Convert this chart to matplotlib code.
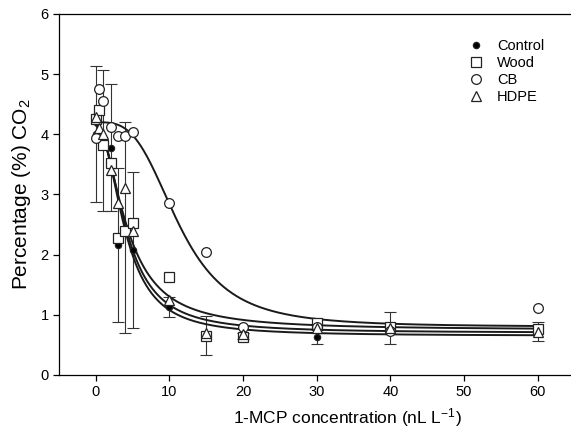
import numpy as np
import matplotlib
matplotlib.use('Agg')
import matplotlib.pyplot as plt

plt.rcParams['font.family'] = ['Liberation Sans', 'DejaVu Sans']
plt.rcParams['mathtext.default'] = 'regular'

# 1-MCP concentrations (nL L-1)
conc = [0, 0.5, 1, 2, 3, 4, 5, 10, 15, 20, 30, 40, 60]

# CO2 percentage
control = [4.00, 3.95, 3.90, 3.78, 2.16, 2.45, 2.08, 1.13, 0.66, 0.65, 0.63, 0.78, 0.72]
control_err = [1.13, 0, 1.17, 1.05, 1.28, 1.75, 1.30, 0.17, 0.32, 0.05, 0.12, 0.27, 0.16]
wood = [4.25, 4.40, 3.82, 3.52, 2.27, 2.40, 2.52, 1.62, 0.64, 0.63, 0.86, 0.80, 0.77]
cb = [3.94, 4.76, 4.55, 4.12, 3.97, 3.97, 4.04, 2.85, 2.05, 0.80, 0.80, 0.73, 1.12]
hdpe = [4.29, 4.10, 4.00, 3.40, 2.85, 3.11, 2.40, 1.25, 0.70, 0.68, 0.78, 0.78, 0.72]

# sigmoid fit parameters (y0, a, x0, b)
fit_control = [0.65, 3.50, 4.00, 2.15]
fit_wood = [0.75, 3.40, 4.27, 1.93]
fit_cb = [0.80, 3.40, 11.3, 3.30]
fit_hdpe = [0.70, 3.45, 4.12, 2.10]


def sigmoid(x, p):
    y0, a, x0, b = p
    return y0 + a / (1 + (x / x0) ** b)


fig = plt.figure(figsize=(5.71, 4.36), dpi=100)
ax = fig.add_axes([0.1033, 0.140, 0.903, 0.828])

xs = np.linspace(0, 60, 500)
for p in [fit_control, fit_wood, fit_cb, fit_hdpe]:
    ax.plot(xs, sigmoid(xs, p), color='#1a1a1a', lw=1.4, zorder=2)

# error bars
idx = [i for i, e in enumerate(control_err) if e > 0]
ax.errorbar([conc[i] for i in idx], [control[i] for i in idx],
            yerr=[control_err[i] for i in idx], fmt='none', ecolor='#333333',
            elinewidth=0.8, capsize=4, capthick=0.8, zorder=1)

mk = dict(linestyle='none', markeredgecolor='#222222', markeredgewidth=0.9, zorder=3)
ax.plot(conc, control, marker='o', markersize=4.5, color='black', label='Control', **mk)
ax.plot(conc, wood, marker='s', markersize=6.5, markerfacecolor='white', label='Wood', **mk)
ax.plot(conc, cb, marker='o', markersize=7, markerfacecolor='white', label='CB', **mk)
ax.plot(conc, hdpe, marker='^', markersize=7, markerfacecolor='white', label='HDPE', **mk)

ax.set_xlim(-5, 65)
ax.set_ylim(0, 6)
ax.set_xticks(range(0, 61, 10))
ax.set_yticks(range(0, 7))
ax.tick_params(direction='out', length=4, width=0.9, labelsize=10.5)
for s in ax.spines.values():
    s.set_linewidth(0.9)

ax.set_xlabel('1-MCP concentration (nL L$^{-1}$)', fontsize=12.5)
ax.xaxis.set_label_coords(0.56, -0.085)
ax.set_ylabel('Percentage (%) CO$_2$', fontsize=15, labelpad=5)

ax.legend(loc='upper right', bbox_to_anchor=(0.955, 0.95), frameon=False, fontsize=10.5,
          handlelength=1.0, handletextpad=0.9, labelspacing=0.2, borderpad=0)

fig.savefig('out.png', dpi=100)
